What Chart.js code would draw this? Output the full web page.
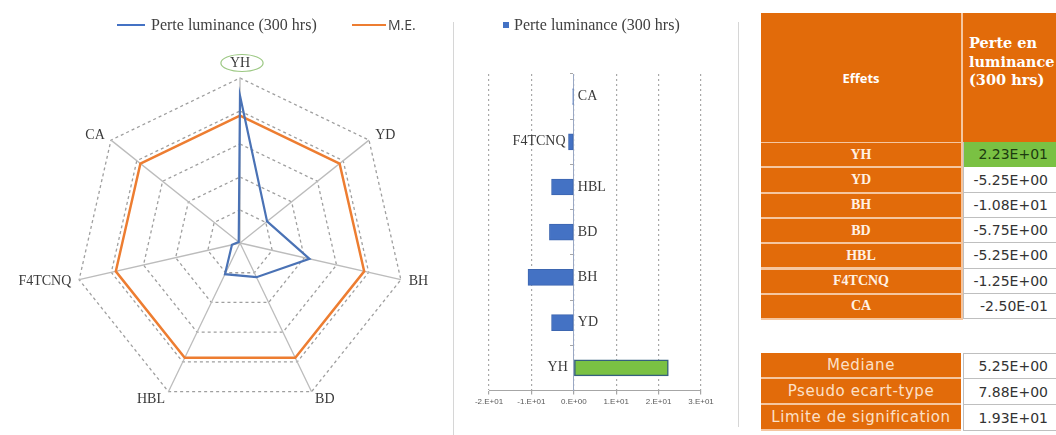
<!DOCTYPE html>
<html><head><meta charset="utf-8">
<script src="https://cdn.jsdelivr.net/npm/chart.js@4.4.1/dist/chart.umd.min.js"></script>
<style>
html,body{margin:0;padding:0}
body{width:1056px;height:435px;overflow:hidden;background:#fff;position:relative;font-family:"Liberation Serif",serif}
.abs{position:absolute}
.leg{position:absolute;top:14px;font:16px "Liberation Serif",serif;color:#404040;white-space:nowrap;line-height:22px}
.cell{position:absolute;display:flex;align-items:center;box-sizing:border-box;white-space:nowrap;overflow:hidden}
.lab{background:#E26B0A;justify-content:center;color:#FFF1E4;font:bold 14px "Liberation Serif",serif}
.val{background:#fff;justify-content:flex-end;padding-right:15px;color:#333;font:14px "DejaVu Sans",sans-serif;border-left:1px solid #bfbfbf;border-bottom:1px solid #bfbfbf}
.stat{background:#E26B0A;justify-content:center;color:#FCE0C8;font:15px "DejaVu Sans",sans-serif;letter-spacing:0.6px}
</style></head>
<body>
<div id="radarWrap" class="abs" style="left:0;top:0;width:453px;height:435px"><canvas id="radar"></canvas></div>
<div id="barWrap" class="abs" style="left:453px;top:0;width:285px;height:435px"><canvas id="bar"></canvas></div>

<div class="abs" style="left:453px;top:22px;width:1px;height:413px;background:#d6d6d6"></div>
<div class="abs" style="left:738px;top:22px;width:1px;height:405px;background:#d6d6d6"></div>

<div class="abs" style="left:117px;top:24px;width:28px;height:2px;background:#4472C4"></div>
<div class="leg" id="legA" style="left:151px"></div>
<div class="abs" style="left:352px;top:24px;width:34px;height:2px;background:#ED7D31"></div>
<div class="leg" id="legB" style="left:388px;font:14px 'Open Sans',sans-serif;line-height:22px"></div>

<div class="abs" style="left:503px;top:22px;width:6px;height:6px;background:#4472C4"></div>
<div class="leg" id="legC" style="left:514px"></div>

<div id="table1"></div>
<div id="table2"></div>

<script>
// ---- data ----
const categories = ['YH', 'YD', 'BH', 'BD', 'HBL', 'F4TCNQ', 'CA'];
const effects = [22.3, -5.25, -10.8, -5.75, -5.25, -1.25, -0.25];
const radarLoss = [22.3, 5.25, 10.8, 5.75, 5.25, 1.25, 0.25];
const meLine = [19.3, 19.3, 19.3, 19.3, 19.3, 19.3, 19.3];
const radarTicks = [0, 5, 10, 15, 20, 25];
const barTicks = [-20, -10, 0, 10, 20, 30];
const statLabels = ['Mediane', 'Pseudo ecart-type', 'Limite de signification'];
const statValues = [5.25, 7.88, 19.3];
const seriesName = 'Perte luminance (300 hrs)';
const meName = 'M.E.';
const headerLeft = 'Effets';
const headerRight = ['Perte en', 'luminance', '(300 hrs)'];

// ---- helpers ----
function fmtE(v) {
  const s = v.toExponential(2);
  const [m, e] = s.split('e');
  return m + 'E' + e[0] + e.slice(1).padStart(2, '0');
}
function fmtTick(v) {
  if (v === 0) return '0.E+00';
  const ex = Math.floor(Math.log10(Math.abs(v)));
  const m = Math.round(v / Math.pow(10, ex));
  return m + '.E' + (ex >= 0 ? '+' : '-') + String(Math.abs(ex)).padStart(2, '0');
}

document.getElementById('legA').textContent = seriesName;
document.getElementById('legB').textContent = meName;
document.getElementById('legC').textContent = seriesName;

const BLUE = '#4472C4', ORANGE = '#ED7D31', GREEN = '#7AC143';

// ---- radar ----
const radarLabels = {
  id: 'radarLabels',
  afterDraw(chart) {
    const s = chart.scales.r, ctx = chart.ctx;
    ctx.save();
    ctx.font = '14px "Liberation Serif", serif';
    ctx.fillStyle = '#3a3a3a';
    chart.data.labels.forEach((lab, i) => {
      const p = s.getPointPosition(i, s.drawingArea + 8);
      const dx = p.x - s.xCenter;
      const top = Math.abs(dx) < 3;
      ctx.textAlign = top ? 'center' : (dx > 0 ? 'left' : 'right');
      ctx.textBaseline = top ? 'bottom' : 'middle';
      ctx.fillText(lab, p.x, p.y);
      if (i === 0) {
        const w = ctx.measureText(lab).width;
        ctx.beginPath();
        ctx.ellipse(p.x + 2, p.y - 7, w / 2 + 11, 8.5, 0, 0, Math.PI * 2);
        ctx.strokeStyle = '#9cc883';
        ctx.lineWidth = 1.2;
        ctx.stroke();
      }
    });
    ctx.restore();
  }
};

new Chart(document.getElementById('radar'), {
  type: 'radar',
  data: {
    labels: categories,
    datasets: [
      { label: seriesName, data: radarLoss, borderColor: '#4a72b5', borderWidth: 2.2, pointRadius: 0, fill: false },
      { label: meName, data: meLine, borderColor: ORANGE, borderWidth: 2.5, pointRadius: 0, fill: false }
    ]
  },
  options: {
    responsive: true, maintainAspectRatio: false, animation: false,
    layout: { padding: { left: 75, right: 48, top: 78, bottom: 27 } },
    plugins: { legend: { display: false }, tooltip: { enabled: false } },
    scales: {
      r: {
        min: radarTicks[0], max: radarTicks[radarTicks.length - 1],
        afterBuildTicks: s => { s.ticks = radarTicks.map(v => ({ value: v })); },
        ticks: { display: false },
        pointLabels: { display: false },
        grid: { color: '#9f9f9f', lineWidth: 1.3 },
        border: { dash: [3, 3] },
        angleLines: { color: '#bcbcbc', lineWidth: 1.3 }
      }
    }
  },
  plugins: [radarLabels]
});

// ---- bar ----
const labelSide = ['left', 'right', 'right', 'right', 'right', 'left', 'right'];
const barLabels = {
  id: 'barLabels',
  afterDatasetsDraw(chart) {
    const ctx = chart.ctx, meta = chart.getDatasetMeta(0);
    const zero = chart.scales.x.getPixelForValue(0);
    ctx.save();
    ctx.font = '14px "Liberation Serif", serif';
    ctx.fillStyle = '#3a3a3a';
    ctx.textBaseline = 'middle';
    meta.data.forEach((bar, i) => {
      if (labelSide[i] === 'right') {
        ctx.textAlign = 'left';
        ctx.fillText(chart.data.labels[i], zero + 4, bar.y);
      } else {
        ctx.textAlign = 'right';
        ctx.fillText(chart.data.labels[i], Math.min(bar.x, zero - 3) - 3, bar.y);
      }
    });
    ctx.restore();
  }
};

new Chart(document.getElementById('bar'), {
  type: 'bar',
  data: {
    labels: categories,
    datasets: [{
      label: seriesName, data: effects,
      backgroundColor: effects.map(v => v > 0 ? GREEN : BLUE),
      borderColor: effects.map(v => v > 0 ? '#35607e' : '#3d66b0'),
      borderWidth: effects.map(v => v > 0 ? 1.5 : 1),
      borderSkipped: false,
      barThickness: 16
    }]
  },
  options: {
    indexAxis: 'y',
    responsive: true, maintainAspectRatio: false, animation: false,
    layout: { padding: { left: 36, right: 37, top: 74, bottom: 25 } },
    plugins: { legend: { display: false }, tooltip: { enabled: false } },
    scales: {
      x: {
        min: barTicks[0], max: barTicks[barTicks.length - 1],
        afterBuildTicks: s => { s.ticks = barTicks.map(v => ({ value: v })); },
        ticks: { callback: v => fmtTick(v), font: { size: 8, family: 'Liberation Sans' }, color: '#595959', maxRotation: 0, padding: 3 },
        grid: { color: '#a8a8a8', lineWidth: 1.2, drawTicks: true, tickLength: 4, tickColor: '#a6a6a6' },
        border: { dash: [2, 3], color: '#a6a6a6' }
      },
      y: {
        reverse: true,
        position: { x: 0 },
        ticks: { display: false },
        grid: { drawOnChartArea: false, drawTicks: true, tickLength: 3, offset: true, color: '#a6a6a6' },
        border: { color: '#9aa8c4', width: 1 }
      }
    }
  },
  plugins: [barLabels]
});

// ---- tables ----
function cell(parent, cls, x, y, w, h, html, style) {
  const d = document.createElement('div');
  d.className = 'cell ' + cls;
  d.style.left = x + 'px'; d.style.top = y + 'px';
  d.style.width = w + 'px'; d.style.height = h + 'px';
  if (style) d.style.cssText += style;
  d.innerHTML = html;
  parent.appendChild(d);
  return d;
}
const t1 = document.getElementById('table1');
cell(t1, '', 761, 13, 202, 307, '', 'background:#F5C6A0');
cell(t1, 'lab', 761, 13, 200, 129, headerLeft, 'font:bold 13px "Open Sans",sans-serif;color:#fff');
cell(t1, 'lab', 963, 13, 100, 129, headerRight.join('<br>'),
  'justify-content:flex-start;align-items:flex-start;padding-left:6px;padding-top:21px;font:bold 14.5px "DejaVu Serif",serif;line-height:18.5px;color:#fff');
const rowH = 25.3;
categories.forEach((c, k) => {
  const y = 143 + k * rowH;
  cell(t1, 'lab', 761, y, 200, rowH - 2, c);
  const v = cell(t1, 'val', 963, y - 1, 100, rowH + 0.3, fmtE(effects[k]));
  if (effects[k] > 0) { v.style.background = GREEN; v.style.color = '#1d3b10'; }
});
const t2 = document.getElementById('table2');
cell(t2, '', 761, 353, 200, 78, '', 'background:#F5C6A0');
statLabels.forEach((s, k) => {
  const y = 353 + k * 26;
  cell(t2, 'stat', 761, y, 200, 24, s);
  cell(t2, 'val', 963, y, 100, 26, fmtE(statValues[k]), k === 0 ? 'border-top:1px solid #bfbfbf' : '');
});
</script>
</body></html>
